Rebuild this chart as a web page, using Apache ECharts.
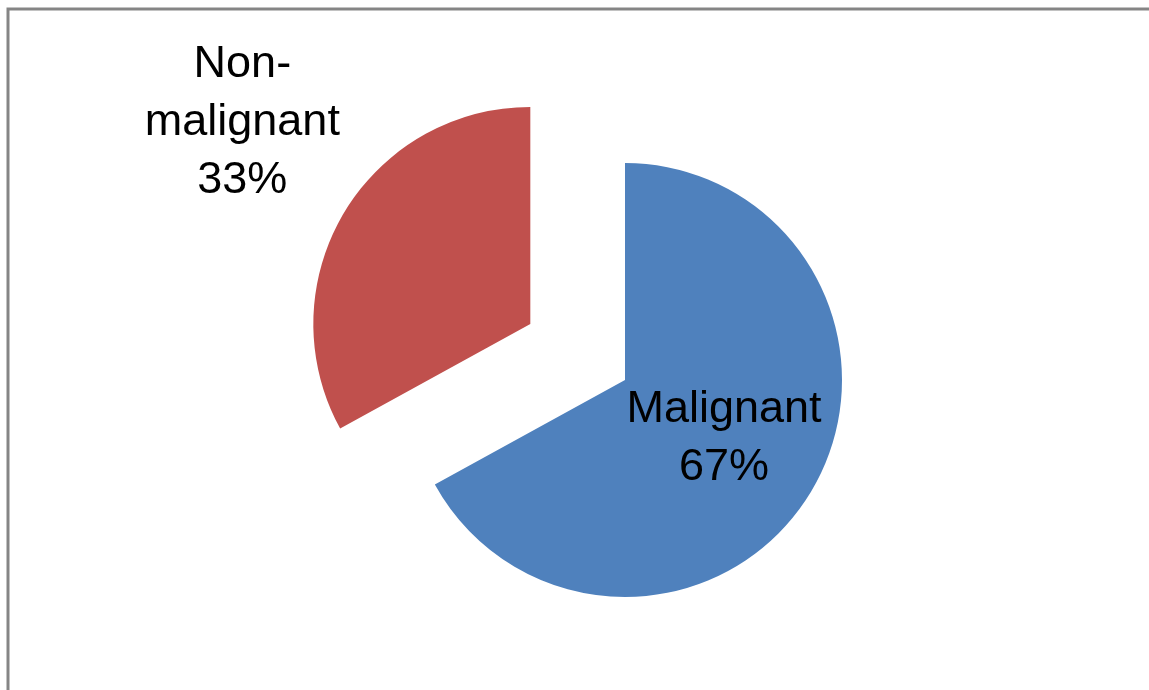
<!DOCTYPE html>
<html>
<head>
<meta charset="utf-8">
<script src="https://cdn.jsdelivr.net/npm/echarts@6/dist/echarts.min.js"></script>
<style>
html,body{margin:0;padding:0;background:#fff;}
#chart{width:1149px;height:690px;}
</style>
</head>
<body>
<div id="chart"></div>
<script>
const categories = ['Malignant', 'Non-\nmalignant'];
const values = [67, 33];
const colors = ['#4F81BD', '#C0504D'];
const explodedIndex = 1;

const chart = echarts.init(document.getElementById('chart'), null, {renderer: 'canvas'});

const labelOffsets = [[3, 2], [-192, -145]];

const data = categories.map((name, i) => ({
  name: name,
  value: values[i],
  selected: i === explodedIndex,
  itemStyle: {color: colors[i]},
  label: {offset: labelOffsets[i]},
  select: {
    itemStyle: {color: colors[i], borderWidth: 0},
    label: {offset: labelOffsets[i]}
  }
}));

chart.setOption({
  animation: false,
  backgroundColor: '#ffffff',
  graphic: [{
    type: 'rect',
    shape: {x: 8, y: 9, width: 1300, height: 800},
    style: {fill: 'none', stroke: '#858585', lineWidth: 3},
    silent: true,
    z: 100
  }],
  series: [{
    type: 'pie',
    center: [625, 380],
    radius: [0, 217],
    startAngle: 90,
    clockwise: true,
    selectedMode: 'single',
    selectedOffset: 110,
    avoidLabelOverlap: false,
    emphasis: {disabled: true},
    label: {
      show: true,
      position: 'inside',
      formatter: p => p.name + '\n' + Math.round(p.percent) + '%',
      fontFamily: '"Liberation Sans", Arial, sans-serif',
      fontSize: 45,
      lineHeight: 58,
      color: '#000000',
      align: 'center'
    },
    labelLine: {show: false},
    data: data
  }]
});
</script>
</body>
</html>
